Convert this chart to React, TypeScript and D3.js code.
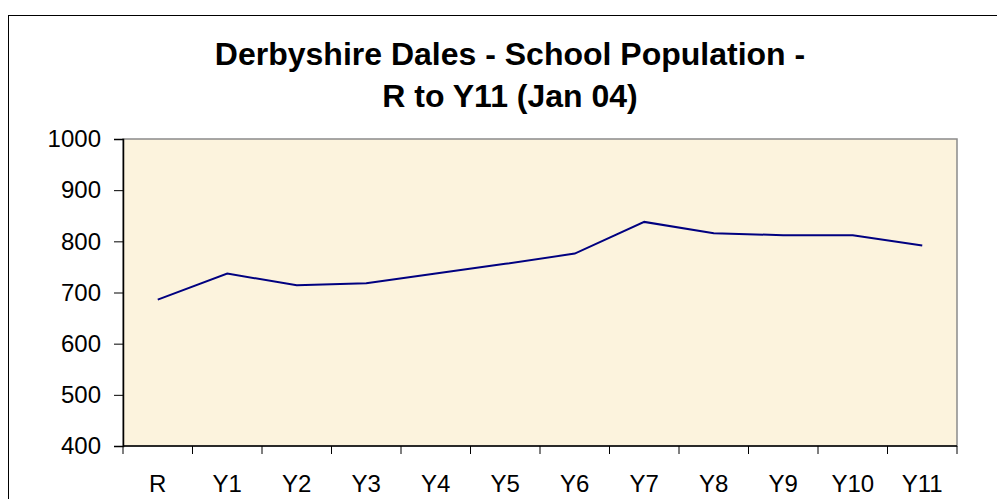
import React, { useRef, useEffect } from "react";
import * as d3 from "d3";

// School population by year group, Jan 04
const categories = ["R", "Y1", "Y2", "Y3", "Y4", "Y5", "Y6", "Y7", "Y8", "Y9", "Y10", "Y11"];
const pupils = [686, 737, 714, 718, 737, 756, 776, 838, 816, 812, 812, 792];
const yTicks = [400, 500, 600, 700, 800, 900, 1000];
const titleLines = ["Derbyshire Dales - School Population -", "R to Y11 (Jan 04)"];

const W = 997;
const H = 499;

export default function App() {
    const ref = useRef<SVGSVGElement>(null);

    useEffect(() => {
        if (!ref.current) return;
        const svg = d3.select(ref.current);
        svg.selectAll("*").remove();

        const margin = { top: 139, right: 40, bottom: 53, left: 123 };
        const font = "Liberation Sans, Arial, sans-serif";

        // outer chart border (only left and top visible in frame)
        svg.append("rect")
            .attr("x", 8.5).attr("y", 15.5)
            .attr("width", W + 20).attr("height", H + 20)
            .attr("fill", "#fff")
            .attr("stroke", "#000").attr("stroke-width", 1);

        // title
        svg.append("g").selectAll("text")
            .data(titleLines)
            .enter()
            .append("text")
            .attr("x", 510)
            .attr("y", (d, i) => 65 + i * 41.5)
            .attr("text-anchor", "middle")
            .attr("font-family", font)
            .attr("font-weight", "bold")
            .attr("font-size", 32)
            .attr("fill", "#000")
            .text(d => d);

        const x = d3.scaleBand<string>()
            .domain(categories)
            .range([margin.left, W - margin.right]);
        const y = d3.scaleLinear()
            .domain([400, 1000])
            .range([H - margin.bottom, margin.top]);

        const [x0, x1] = x.range();
        const [yb, yt] = y.range();

        // plot area
        svg.append("rect")
            .attr("x", x0).attr("y", yt)
            .attr("width", x1 - x0).attr("height", yb - yt)
            .attr("fill", "#fcf3dd")
            .attr("stroke", "#8a8a8a").attr("stroke-width", 1.5);

        // line
        const line = d3.line<number>()
            .x((d, i) => (x(categories[i]) ?? 0) + x.bandwidth() / 2)
            .y(d => y(d));
        svg.append("path")
            .datum(pupils)
            .attr("fill", "none")
            .attr("stroke", "#000080")
            .attr("stroke-width", 2)
            .attr("d", line);

        // y axis
        const yAxis = svg.append("g")
            .attr("transform", `translate(${x0},0)`)
            .call(d3.axisLeft(y).tickValues(yTicks).tickSize(9).tickPadding(13).tickFormat(d3.format("d")));
        yAxis.selectAll("text")
            .attr("font-family", font).attr("font-size", 24).attr("fill", "#000");

        // x axis: ticks at category boundaries
        const xAxis = svg.append("g")
            .attr("transform", `translate(0,${yb})`);
        xAxis.append("line")
            .attr("x1", x0).attr("x2", x1)
            .attr("stroke", "#000").attr("stroke-width", 1.5);
        xAxis.selectAll(".xt")
            .data(d3.range(categories.length + 1))
            .enter()
            .append("line")
            .attr("x1", i => x0 + i * x.step())
            .attr("x2", i => x0 + i * x.step())
            .attr("y1", 0).attr("y2", 8)
            .attr("stroke", "#000");
        xAxis.selectAll(".xl")
            .data(categories)
            .enter()
            .append("text")
            .attr("x", d => (x(d) ?? 0) + x.bandwidth() / 2)
            .attr("y", 46)
            .attr("text-anchor", "middle")
            .attr("font-family", font)
            .attr("font-size", 24)
            .attr("fill", "#000")
            .text(d => d);

        svg.selectAll(".domain").attr("stroke", "#000").attr("stroke-width", 1.5);
        svg.selectAll(".tick line").attr("stroke", "#000");
    }, []);

    return (
        <svg
            ref={ref}
            width={W}
            height={H}
            style={{ position: "absolute", left: 0, top: 0, display: "block", background: "#fff" }}
        />
    );
}
